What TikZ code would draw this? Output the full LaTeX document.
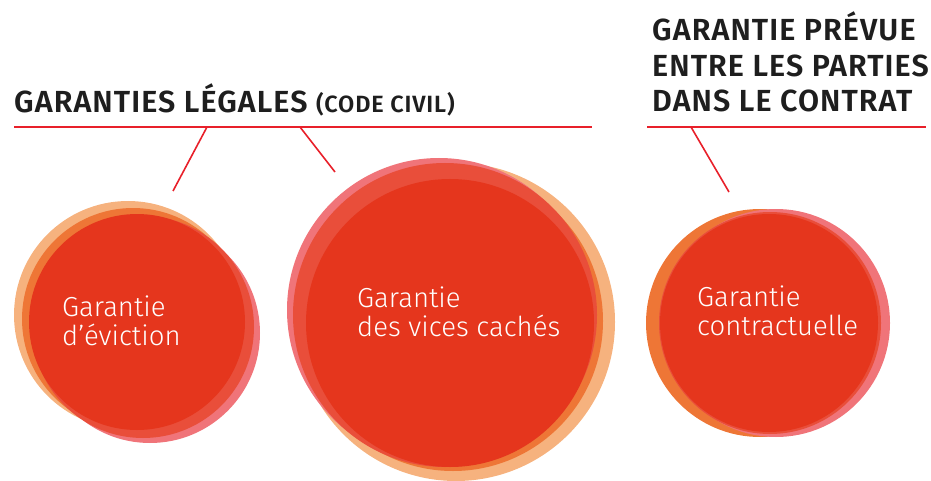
\documentclass[tikz,border=0pt]{standalone}
\usepackage{fontspec}
\setmainfont{Fira Sans Light}
\newfontfamily\headfont[LetterSpace=3.5]{Fira Sans SemiBold}

\definecolor{mainred}{HTML}{E5361D}
\definecolor{midred}{HTML}{E94E3A}
\definecolor{pinkred}{HTML}{F07479}
\definecolor{orangered}{HTML}{EE7636}
\definecolor{paleorange}{HTML}{F6B27E}
\definecolor{lineRed}{HTML}{E8202A}
\definecolor{inkdark}{HTML}{1E1E1E}

\tikzset{
	blob/.style={circle,inner sep=0pt,minimum size=#1},
	label text/.style={text=white,align=left,anchor=west,inner sep=0pt,
		font=\fontsize{27.5}{29}\selectfont},
	heading/.style={text=inkdark,align=left,anchor=base west,inner sep=0pt,
		font=\headfont\fontsize{30.5}{35.5}\selectfont},
	tick/.style={draw=lineRed,line width=1.6pt}
}

\begin{document}
\begin{tikzpicture}[x=1pt,y=-1pt]
	\useasboundingbox (0,0) rectangle (931,481);

	% garantie d'eviction
	\begin{scope}
		\node[blob=228pt,fill=paleorange] (Ea) at (128,315) {};
		\node[blob=220pt,fill=pinkred] (Eb) at (150,333) {};
		\node[blob=222pt,fill=orangered] (Ec) at (133,319) {};
		\node[blob=222pt,fill=midred] (Ed) at (143,327) {};
		\node[blob=216pt,fill=mainred] (E) at (137,322) {};
	\end{scope}

	% garantie des vices caches
	\begin{scope}
		\node[blob=318pt,fill=paleorange] (Va) at (456,322) {};
		\node[blob=304pt,fill=pinkred] (Vb) at (439,310) {};
		\node[blob=300pt,fill=orangered] (Vc) at (453,321) {};
		\node[blob=304pt,fill=midred] (Vd) at (445,315) {};
		\node[blob=288pt,fill=mainred] (V) at (450,323) {};
	\end{scope}

	% garantie contractuelle
	\begin{scope}
		\node[blob=228pt,fill=orangered] (Ca) at (760,323) {};
		\node[blob=228pt,fill=pinkred] (Cb) at (776,323) {};
		\node[blob=222pt,fill=midred] (Cc) at (770,323) {};
		\node[blob=218pt,fill=mainred] (C) at (769,323) {};
	\end{scope}

	\node[label text] (Etxt) at (62,321) {Garantie\\d’éviction};
	\node[label text] (Vtxt) at (357,312) {Garantie\\des vices cachés};
	\node[label text] (Ctxt) at (697,311) {Garantie\\contractuelle};

	\node[heading] (legal) at (14,113) {GARANTIES LÉGALES {\fontsize{23.5}{26}\selectfont(CODE CIVIL)}};
	\node[heading] (contrat) at (652,112) {GARANTIE PRÉVUE\\ENTRE LES PARTIES\\DANS LE CONTRAT};

	\coordinate (L0) at (14,127);
	\coordinate (L1) at (592,127);
	\coordinate (R0) at (647,127);
	\coordinate (R1) at (926,127);
	\coordinate (k1) at (207,127);
	\coordinate (k2) at (300,127);
	\coordinate (k3) at (691,127);
	\coordinate (e1) at (173,191);
	\coordinate (e2) at (335,172);
	\coordinate (e3) at (729,192);

	\begin{scope}[every edge/.style={tick}]
		\path (L0) edge (L1);
		\path (R0) edge (R1);
		\path (k1) edge (e1);
		\path (k2) edge (e2);
		\path (k3) edge (e3);
	\end{scope}
\end{tikzpicture}
\end{document}
